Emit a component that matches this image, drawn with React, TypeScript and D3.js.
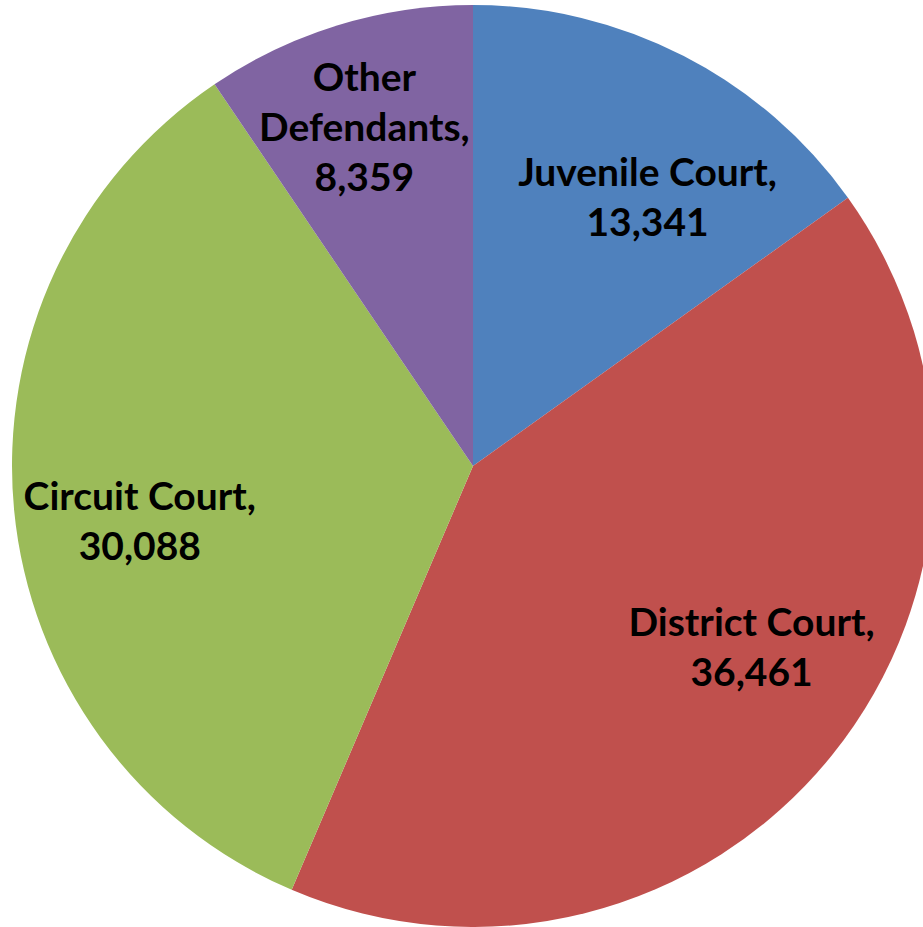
import React from "react";
import * as d3 from "d3";

const categories = ["Juvenile Court", "District Court", "Circuit Court", "Other Defendants"];
const values = [13341, 36461, 30088, 8359];
const colors = ["#4F81BD", "#C0504D", "#9BBB59", "#8064A2"];
const labelLines = [
  ["Juvenile Court,", "13,341"],
  ["District Court,", "36,461"],
  ["Circuit Court,", "30,088"],
  ["Other", "Defendants,", "8,359"],
];
const labelNudge = [
  [27, 18],
  [27, -21],
  [-12, 24],
  [-14, -30],
];

export default function App() {
  const W = 923, H = 927;
  const cx = 473, cy = 466, R = 461;
  const pie = d3.pie<number>().sort(null).value((d) => d);
  const arcs = pie(values);
  const arc = d3.arc<d3.PieArcDatum<number>>().innerRadius(0).outerRadius(R);
  const labelArc = d3.arc<d3.PieArcDatum<number>>().innerRadius(R * 0.7).outerRadius(R * 0.7);
  const lh = 50;
  return (
    <svg width={W} height={H} style={{ position: "absolute", left: 0, top: 0, background: "#fff" }}>
      <g transform={`translate(${cx},${cy})`}>
        {arcs.map((a, i) => (
          <path key={categories[i]} d={arc(a) || ""} fill={colors[i]} />
        ))}
        {arcs.map((a, i) => {
          const [x, y] = labelArc.centroid(a);
          const lx = x + labelNudge[i][0];
          const ly = y + labelNudge[i][1];
          const lines = labelLines[i];
          const y0 = ly + 14 - ((lines.length - 1) * lh) / 2;
          return (
            <text key={"l" + i} textAnchor="middle" fontFamily="Lato, 'Open Sans', sans-serif" fontWeight="bold" fontSize={39} fill="#000">
              {lines.map((t, j) => (
                <tspan key={j} x={lx} y={y0 + j * lh}>{t}</tspan>
              ))}
            </text>
          );
        })}
      </g>
    </svg>
  );
}
